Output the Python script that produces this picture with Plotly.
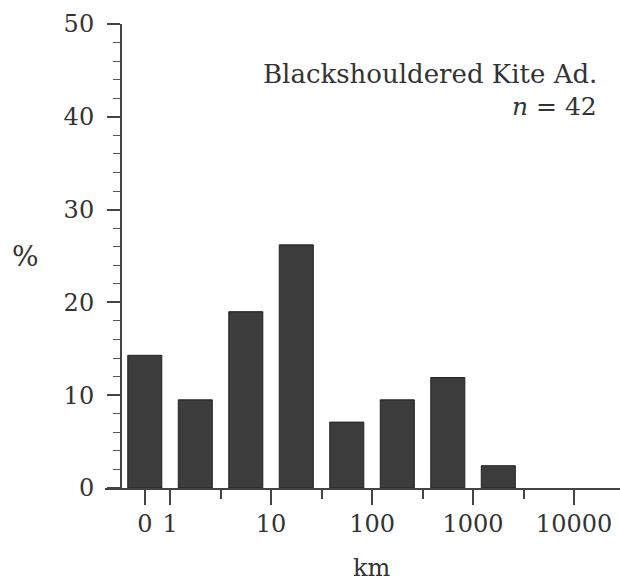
import plotly.graph_objects as go

# Distance bins (km) and percentage of birds (n = 42)
bin_labels = ["0", "1-3", "3-10", "10-30", "30-100", "100-300", "300-1000", "1000-3000"]
bin_log_centers = [-0.25, 0.25, 0.75, 1.25, 1.75, 2.25, 2.75, 3.25]
percent = [14.3, 9.5, 19.0, 26.2, 7.1, 9.5, 11.9, 2.4]

x_major_vals = [-0.25, 0, 1, 2, 3, 4]
x_major_text = ["0", "1", "10", "100", "1000", "10000"]
x_minor_vals = [0.5, 1.5, 2.5, 3.5]

FONT = "DejaVu Serif"
INK = "#333333"

fig = go.Figure()
fig.add_trace(go.Bar(
    x=bin_log_centers, y=percent, customdata=bin_labels,
    width=0.337,
    marker=dict(color="#3c3c3c", line=dict(color="#222222", width=1)),
))

fig.update_layout(
    width=620, height=583,
    margin=dict(l=105, r=0, t=24, b=95),
    paper_bgcolor="white", plot_bgcolor="white",
    showlegend=False,
    font=dict(family=FONT, size=24, color=INK),
    xaxis=dict(
        range=[-0.644, 4.455], showgrid=False, zeroline=False,
        showline=True, linecolor="#444444", linewidth=1.5,
        tickmode="array", tickvals=x_major_vals, ticktext=x_major_text,
        ticks="outside", ticklen=15, tickwidth=1.5, tickcolor="#444444",
        ticklabelstandoff=-2,
        minor=dict(tickmode="array", tickvals=x_minor_vals, ticks="outside",
                   ticklen=9, tickwidth=1.5, tickcolor="#444444"),
        tickfont=dict(family=FONT, size=24, color=INK),
    ),
    yaxis=dict(
        range=[0, 50], showgrid=False, zeroline=False,
        anchor="free", position=0.031,
        showline=True, linecolor="#444444", linewidth=2,
        tickmode="linear", tick0=0, dtick=10,
        ticks="outside", ticklen=13, tickwidth=1.5, tickcolor="#444444",
        ticklabelstandoff=8,
        minor=dict(dtick=2, ticks="outside", ticklen=7, tickwidth=1.2, tickcolor="#555555"),
        tickfont=dict(family=FONT, size=24, color=INK),
    ),
    annotations=[
        dict(text="Blackshouldered Kite Ad.", xref="paper", yref="paper",
             x=(599 - 105) / 515, y=(583 - 95 - 74) / 464, xanchor="right", yanchor="middle",
             showarrow=False, font=dict(family=FONT, size=26, color=INK)),
        dict(text="<i>n</i> = 42", xref="paper", yref="paper",
             x=(599 - 105) / 515, y=(583 - 95 - 106) / 464, xanchor="right", yanchor="middle",
             showarrow=False, font=dict(family=FONT, size=25, color=INK)),
        dict(text="%", xref="paper", yref="paper",
             x=(25 - 105) / 515, y=(583 - 95 - 256) / 464, xanchor="center", yanchor="middle",
             showarrow=False, font=dict(family=FONT, size=28, color=INK)),
        dict(text="km", xref="paper", yref="paper",
             x=(372 - 105) / 515, y=(583 - 95 - 568) / 464, xanchor="center", yanchor="middle",
             showarrow=False, font=dict(family=FONT, size=24, color=INK)),
    ],
)

fig.write_html("out.html")
